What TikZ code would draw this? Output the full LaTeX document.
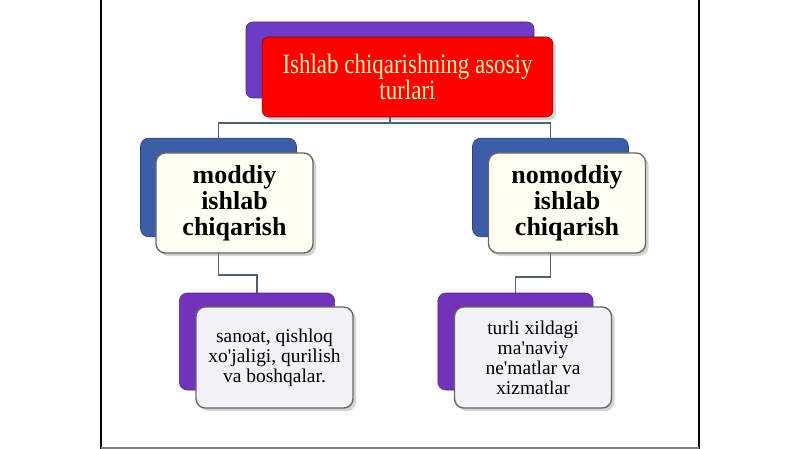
\documentclass[tikz,border=0pt]{standalone}
\usepackage{fontspec}
\setmainfont{Liberation Serif}
\newfontfamily\narrowserif[FakeStretch=0.82]{Liberation Serif}
\usepackage{xcolor}
\usepackage{tikz}
\usetikzlibrary{positioning,calc,backgrounds,shadows}
\definecolor{headred}{HTML}{FF0000}
\definecolor{headtext}{HTML}{FFF0B4}
\definecolor{backviolet}{HTML}{6E3CC4}
\definecolor{backblue}{HTML}{3D5EA6}
\definecolor{backpurple}{HTML}{7232BA}
\definecolor{ivory}{HTML}{FFFFF2}
\definecolor{paleviolet}{HTML}{F3F1F8}
\definecolor{linkgray}{HTML}{52616E}
\tikzset{
  headbox/.style={draw=red!45!black, rounded corners=5pt, fill=headred, text=headtext, align=center,
    minimum width=218pt, minimum height=60pt, drop shadow={opacity=0.35},
    font=\narrowserif\fontsize{21}{15}\selectfont},
  headback/.style={draw=backviolet!70!black, rounded corners=5pt, fill=backviolet, minimum width=216pt, minimum height=57pt},
  kindbox/.style={draw=gray!80!black, line width=1pt, rounded corners=7pt, fill=ivory, align=center,
    minimum width=117.75pt, minimum height=75pt, drop shadow={opacity=0.35},
    font=\bfseries\fontsize{19.5}{19.5}\selectfont},
  kindback/.style={draw=backblue!70!black, rounded corners=6pt, fill=backblue, minimum width=117pt, minimum height=74pt},
  examplebox/.style={draw=gray!80!black, line width=1pt, rounded corners=7pt, fill=paleviolet, align=center,
    minimum width=117.75pt, minimum height=75.75pt, drop shadow={opacity=0.35},
    font=\fontsize{14.6}{15}\selectfont},
  exampleback/.style={draw=backpurple!70!black, rounded corners=6pt, fill=backpurple, minimum width=116.5pt, minimum height=72.75pt},
  link/.style={draw=linkgray, line width=0.9pt},
}
\begin{document}
\begin{tikzpicture}[x=0.75pt, y=-0.75pt]
\useasboundingbox (0,0) rectangle (800,449);
% page frame
\draw[line width=2.2pt] (101,0) -- (101,449);
\draw[line width=1.5pt] (699,0) -- (699,449);
\draw[gray, line width=1.5pt] (101,448) -- (699,448);
% top level
\node[headback] (typesback) at (390,60) {};
\node[headbox] (types) at ($(typesback)+(17.5,17)$) {Ishlab chiqarishning asosiy\\turlari};
% second level
\node[kindback] (materialback) at (218.5,187.5) {};
\node[kindbox] (material) at ($(materialback)+(16,15.5)$) {moddiy\\ishlab\\chiqarish};
\node[kindback] (spiritualback) at (550.5,187.5) {};
\node[kindbox] (spiritual) at ($(spiritualback)+(16.5,15.5)$) {nomoddiy\\ishlab\\chiqarish};
% examples
\node[exampleback] (goodsback) at (257,341.5) {};
\node[examplebox] (goods) at ($(goodsback)+(17.5,16)$) {sanoat, qishloq\\xo\textquotesingle jaligi, qurilish\\va boshqalar.};
\node[exampleback] (servicesback) at (515.5,341.5) {};
\node[examplebox] (services) at ($(servicesback)+(17.5,16)$) {turli xildagi\\ma\textquotesingle naviy\\ne\textquotesingle matlar va\\xizmatlar};
% connectors
\coordinate (topfork) at (390,123);
\coordinate (leftfork) at (218.5,275);
\coordinate (rightfork) at (550.5,277);
\begin{scope}[on background layer]
\draw[link] (typesback.center) -- (topfork) -| (materialback.center);
\draw[link] (topfork) -| (spiritualback.center);
\draw[link] (materialback.center) -- (leftfork) -| (goodsback.center);
\draw[link] (spiritualback.center) -- (rightfork) -| (servicesback.center);
\end{scope}
\end{tikzpicture}
\end{document}
